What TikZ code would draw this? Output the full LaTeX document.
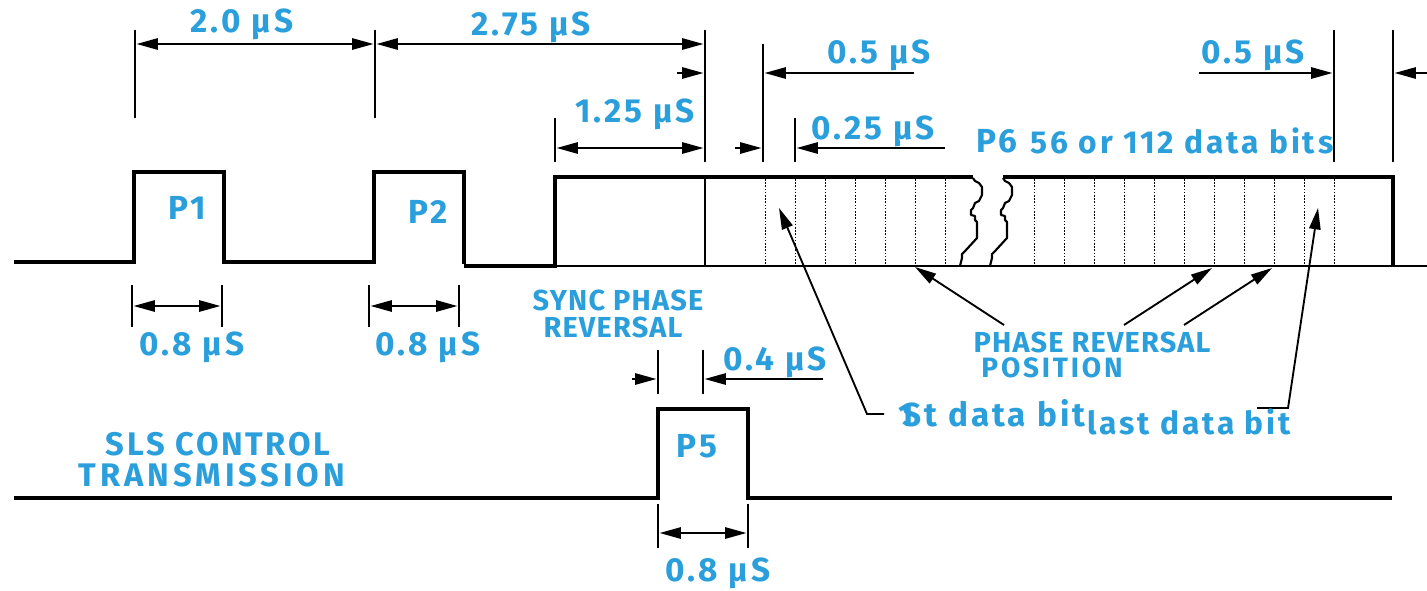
\documentclass[tikz,border=0pt]{standalone}
\usepackage{fontspec}
\setmainfont[LetterSpace=9]{Fira Sans}
\newfontfamily\capsfont[LetterSpace=4]{Fira Sans}
\newfontfamily\posfont[LetterSpace=10]{Fira Sans}
\newfontfamily\capwfont[LetterSpace=8]{Fira Sans}
\newfontfamily\capxfont[LetterSpace=12]{Fira Sans}
\usetikzlibrary{arrows.meta}
\definecolor{lbl}{HTML}{2A9FDB}
\tikzset{
  lab/.style={text=lbl,font=\fontsize{25pt}{28pt}\selectfont\bfseries,inner sep=0pt,anchor=center},
  labs/.style={text=lbl,font=\fontsize{23.8pt}{26pt}\selectfont\bfseries,inner sep=0pt,anchor=center},
  caps/.style={text=lbl,font=\capsfont\fontsize{21.7pt}{24pt}\selectfont\bfseries,inner sep=0pt,anchor=center},
  capp/.style={text=lbl,font=\posfont\fontsize{21pt}{23pt}\selectfont\bfseries,inner sep=0pt,anchor=center},
  capl/.style={text=lbl,font=\capwfont\fontsize{24.5pt}{27pt}\selectfont\bfseries,inner sep=0pt,anchor=center},
  capx/.style={text=lbl,font=\capxfont\fontsize{24.5pt}{27pt}\selectfont\bfseries,inner sep=0pt,anchor=center},
  pulse/.style={line width=3pt,line join=miter,black},
  base/.style={line width=2.2pt,black},
  ext/.style={line width=1.6pt,black},
  dim/.style={line width=1.4pt,black,shorten >=1.2pt},
  dimb/.style={line width=1.4pt,black,{Triangle[length=16pt,width=8.5pt]}-{Triangle[length=16pt,width=8.5pt]},shorten >=1.2pt,shorten <=1.2pt},
  dima/.style={dim,-{Triangle[length=16pt,width=8.5pt]}},
  lead/.style={line width=1.4pt,black,-{Triangle[length=16pt,width=8.5pt]}},
  tick/.style={line width=.7pt,black,dash pattern=on 1.2pt off 1.2pt},
  thinv/.style={line width=1.2pt,black},
  brk/.style={line width=1.6pt,black,line join=round}
}
\begin{document}
\begin{tikzpicture}[x=.75pt,y=-.75pt]
\useasboundingbox (0,0) rectangle (1427,590);
% top waveform
\draw[pulse] (14,262) -- (134,262) -- (134,172) -- (224,172) -- (224,262) -- (374,262) -- (374,172) -- (464,172) -- (464,264);
\draw[pulse] (464,266) -- (555,266) -- (555,177) -- (973,177);
\draw[pulse] (1003,177) -- (1393,177) -- (1393,266);
\draw[base] (555,266) -- (1427,266);
\draw[thinv] (705,177) -- (705,266);
\foreach \x in {765,795,825,855,885,915,945,1034,1064,1094,1124,1154,1184,1214,1244,1274,1304,1334}
  \draw[tick] (\x,179) -- (\x,265);
% break
\draw[brk] (973,178) -- (975,181) -- (979,183) -- (982,187) -- (982,195) -- (979,201) -- (975,203) -- (973,208) -- (971,210) -- (971,215) -- (975,216) -- (975,220) -- (977,222) -- (977,238) -- (966,250) -- (962,254) -- (962,258) -- (960,266);
\draw[brk] (1003,178) -- (1005,181) -- (1009,183) -- (1012,187) -- (1012,195) -- (1009,201) -- (1005,203) -- (1003,208) -- (1001,210) -- (1001,215) -- (1005,216) -- (1005,220) -- (1007,222) -- (1007,238) -- (996,250) -- (992,254) -- (992,258) -- (990,266);
% P5 waveform
\draw[pulse] (14,498) -- (658,498) -- (658,409) -- (748,409) -- (748,498) -- (1392,498);
% extension lines
\draw[ext] (135,30) -- (135,118);
\draw[ext] (375,30) -- (375,118);
\draw[ext] (705,30) -- (705,162);
\draw[ext] (555,118) -- (555,162);
\draw[ext] (763,44) -- (763,162);
\draw[ext] (795,118) -- (795,162);
\draw[ext] (1334,30) -- (1334,162);
\draw[ext] (1393,30) -- (1393,162);
\foreach \x in {132,222,369,459} \draw[ext] (\x,285) -- (\x,327);
\foreach \x in {658,703} \draw[ext] (\x,350) -- (\x,394);
\foreach \x in {658,748} \draw[ext] (\x,504) -- (\x,548);
% dimension arrows
\coordinate (d1) at (135,44); \coordinate (d2) at (375,44); \coordinate (d3) at (705,44);
\draw[dimb] (d1) -- (d2);
\draw[dimb] (d2) -- (d3);
\coordinate (d4) at (555,148); \coordinate (d5) at (705,148);
\draw[dimb] (d4) -- (d5);
\coordinate (e1) at (677,73); \coordinate (e2) at (705,73);
\draw[dima] (e1) -- (e2);
\coordinate (e3) at (914,73); \coordinate (e4) at (763,73);
\draw[dima] (e3) -- (e4);
\coordinate (e5) at (735,148); \coordinate (e6) at (763,148);
\draw[dima] (e5) -- (e6);
\coordinate (e7) at (945,148); \coordinate (e8) at (795,148);
\draw[dima] (e7) -- (e8);
\coordinate (e9) at (1199,73); \coordinate (e10) at (1334,73);
\draw[dima] (e9) -- (e10);
\coordinate (e11) at (1427,73); \coordinate (e12) at (1393,73);
\draw[dima] (e11) -- (e12);
\coordinate (f1) at (132,306); \coordinate (f2) at (222,306);
\draw[dimb] (f1) -- (f2);
\coordinate (f3) at (369,306); \coordinate (f4) at (459,306);
\draw[dimb] (f3) -- (f4);
\coordinate (f5) at (632,379); \coordinate (f6) at (658,379);
\draw[dima] (f5) -- (f6);
\coordinate (f7) at (823,379); \coordinate (f8) at (703,379);
\draw[dima] (f7) -- (f8);
\coordinate (f9) at (658,533); \coordinate (f10) at (748,533);
\draw[dimb] (f9) -- (f10);
% leaders
\coordinate (g1) at (884,414); \coordinate (g2) at (867,414); \coordinate (g3) at (779,208);
\draw[lead] (g1) -- (g2) -- (g3);
\coordinate (g4) at (1257,408); \coordinate (g5) at (1288,408); \coordinate (g6) at (1318,208);
\draw[lead] (g4) -- (g5) -- (g6);
\coordinate (h1) at (1004,325); \coordinate (h2) at (915,267);
\draw[lead] (h1) -- (h2);
\coordinate (h3) at (1124,325); \coordinate (h4) at (1212,268);
\draw[lead] (h3) -- (h4);
\coordinate (h5) at (1184,325); \coordinate (h6) at (1272,268);
\draw[lead] (h5) -- (h6);
% labels
\node[lab] (l1) at (242,24) {2.0 µS};
\node[lab] (l2) at (531,27) {2.75 µS};
\node[lab] (l3) at (635,114) {1.25 µS};
\node[lab] (l4) at (879,55) {0.5 µS};
\node[lab] (l5) at (873,131) {0.25 µS};
\node[lab] (l6) at (997,141) {P6};
\node[labs] (l7) at (1182,141) {56 or 112 data bits};
\node[lab] (l8) at (1253,55) {0.5 µS};
\node[lab] (l9) at (187,208) {P1};
\node[lab] (l10) at (428,212) {P2};
\node[lab] (l11) at (192,347) {0.8 µS};
\node[lab] (l12) at (428,347) {0.8 µS};
\node[caps] (l13) at (618,300) {SYNC PHASE};
\node[caps] (l14) at (613,327) {REVERSAL};
\node[lab] (l15) at (775,362) {0.4 µS};
\node[lab] (l16) at (697,446) {P5};
\node[lab] (l17) at (718,573) {0.8 µS};
\node[capl] (l18) at (218,444) {SLS CONTROL};
\node[capx] (l19) at (212,475) {TRANSMISSION};
\node[caps] (l20) at (1092,342) {PHASE REVERSAL};
\node[capp] (l21) at (1052,368) {POSITION};
\node[lab] (l22) at (992,413) {1\kern-.35em St data bit};
\node[labs] (l23) at (1189,422) {last data bit};
\end{tikzpicture}
\end{document}
